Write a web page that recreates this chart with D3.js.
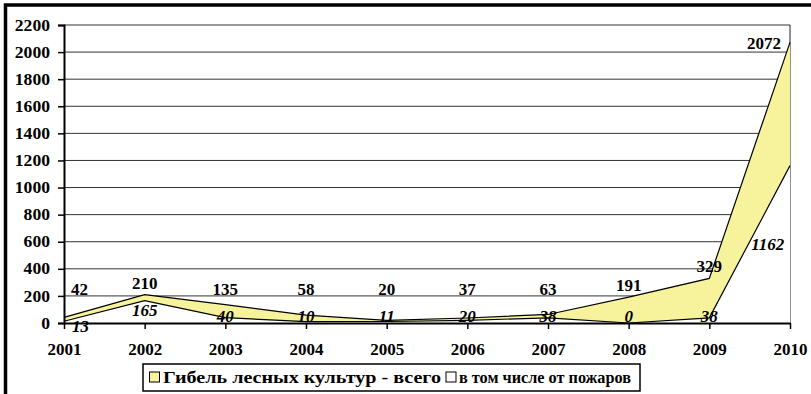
<!DOCTYPE html>
<html>
<head>
<meta charset="utf-8">
<script src="https://cdn.jsdelivr.net/npm/d3@7"></script>
<style>
  html, body { margin: 0; padding: 0; background: #fff; }
  svg { display: block; }
  svg text { font-family: "Liberation Serif", "Times New Roman", "DejaVu Serif", serif; font-weight: bold; fill: #000; }
</style>
</head>
<body>
<svg id="chart" width="811" height="394"></svg>
<script>
// Forest plantation losses, 2001–2010
const years = ["2001", "2002", "2003", "2004", "2005", "2006", "2007", "2008", "2009", "2010"];
const totalLoss = [42, 210, 135, 58, 20, 37, 63, 191, 329, 2072];
const fireLoss = [13, 165, 40, 10, 11, 20, 38, 0, 38, 1162];
const yTicks = [0, 200, 400, 600, 800, 1000, 1200, 1400, 1600, 1800, 2000, 2200];
const seriesNames = ["Гибель лесных культур - всего", "в том числе от пожаров"];

const svg = d3.select("#chart");
const W = 811, H = 394;
const plotLeft = 64, plotRight = 790, plotTop = 25, plotBottom = 323;

// outer chart frame (thick, runs off the right and bottom edges)
svg.append("rect").attr("x", 5.5).attr("y", 5).attr("width", W + 20).attr("height", H + 20)
  .attr("fill", "#fff").attr("stroke", "#000").attr("stroke-width", 3.5);

const x = d3.scalePoint().domain(years).range([plotLeft, plotRight]);
const y = d3.scaleLinear().domain([0, 2200]).range([plotBottom, plotTop]);

// gridlines
svg.append("g").selectAll("line").data(yTicks.slice(1)).join("line")
  .attr("x1", plotLeft).attr("x2", plotRight)
  .attr("y1", d => y(d)).attr("y2", d => y(d))
  .attr("stroke", "#333").attr("stroke-width", 1);

// right border of plot area
svg.append("line").attr("x1", plotRight).attr("x2", plotRight).attr("y1", plotTop).attr("y2", plotBottom)
  .attr("stroke", "#222").attr("stroke-width", 1);

// areas: total losses in yellow, fire losses drawn over them in white
const area = vals => d3.area()
  .x((d, i) => x(years[i]))
  .y0(y(0))
  .y1(d => y(d))(vals);
const line = vals => d3.line()
  .x((d, i) => x(years[i]))
  .y(d => y(d))(vals);

svg.append("path").attr("d", area(totalLoss)).attr("fill", "#F7F39C").attr("stroke", "none");
svg.append("path").attr("d", line(totalLoss)).attr("fill", "none").attr("stroke", "#000").attr("stroke-width", 1.2);
svg.append("path").attr("d", area(fireLoss)).attr("fill", "#fff").attr("stroke", "none");
svg.append("path").attr("d", line(fireLoss)).attr("fill", "none").attr("stroke", "#000").attr("stroke-width", 1.2);

// axes
const yAxis = d3.axisLeft(y).tickValues(yTicks).tickFormat(d3.format("d")).tickSize(6).tickPadding(8);
const gy = svg.append("g").attr("transform", `translate(${plotLeft},0)`).call(yAxis);
gy.attr("font-family", null).attr("font-size", null);
gy.select(".domain").attr("stroke", "#000").attr("stroke-width", 2);
gy.selectAll(".tick line").attr("stroke", "#000").attr("stroke-width", 1.5);
gy.selectAll("text").attr("font-size", 16).attr("fill", "#000")
  .each(function () {
    const w = this.getComputedTextLength();
    d3.select(this).attr("textLength", w * 1.1).attr("lengthAdjust", "spacingAndGlyphs");
  });

const xAxis = d3.axisBottom(x).tickSize(6).tickPadding(14).tickSizeOuter(0);
const gx = svg.append("g").attr("transform", `translate(0,${plotBottom})`).call(xAxis);
gx.attr("font-family", null).attr("font-size", null);
gx.select(".domain").attr("stroke", "#000").attr("stroke-width", 2);
gx.selectAll(".tick line").attr("stroke", "#000").attr("stroke-width", 1.5);
gx.selectAll("text").attr("font-size", 17).attr("fill", "#000");

// value labels for total losses
const last = years.length - 1;
svg.append("g").selectAll("text").data(totalLoss).join("text")
  .attr("x", (d, i) => i === 0 ? x(years[i]) + 7 : i === last ? x(years[i]) - 9 : x(years[i]))
  .attr("y", (d, i) => i === last ? y(d) + 1 : Math.min(y(d) - 12, y(250)))
  .attr("dy", "0.35em")
  .attr("text-anchor", (d, i) => i === 0 ? "start" : i === last ? "end" : "middle")
  .attr("font-size", 17)
  .text(d => d);

// value labels for fire losses
svg.append("g").selectAll("text").data(fireLoss).join("text")
  .attr("x", (d, i) => {
    if (i === 0) return x(years[i]) + 8;
    if (i === last) return (x(years[i - 1]) + x(years[i])) / 2 + 18;
    return x(years[i]);
  })
  .attr("y", (d, i) => {
    if (i === 0) return y(d) + 4.5;
    if (i === last) return (y(fireLoss[i - 1]) + y(d)) / 2 + 2;
    return Math.min(y(d) + 9, 316);
  })
  .attr("dy", "0.35em")
  .attr("text-anchor", (d, i) => i === 0 ? "start" : "middle")
  .attr("font-size", 17)
  .attr("font-style", "italic")
  .text(d => d);

// legend
const lg = svg.append("g");
lg.append("rect").attr("x", 143).attr("y", 364).attr("width", 497).attr("height", 27)
  .attr("fill", "#fff").attr("stroke", "#000").attr("stroke-width", 1.5);
const items = [
  { name: seriesNames[0], fill: "#F7F39C", sx: 149.5, tx: 163, tw: 278 },
  { name: seriesNames[1], fill: "#fff", sx: 446, tx: 459, tw: 172 }
];
items.forEach(it => {
  lg.append("rect").attr("x", it.sx).attr("y", 372).attr("width", 10).attr("height", 10)
    .attr("fill", it.fill).attr("stroke", "#000").attr("stroke-width", 1);
  lg.append("text").attr("x", it.tx).attr("y", 383).attr("font-size", 16)
    .attr("textLength", it.tw).attr("lengthAdjust", "spacingAndGlyphs")
    .text(it.name);
});
</script>
</body>
</html>
